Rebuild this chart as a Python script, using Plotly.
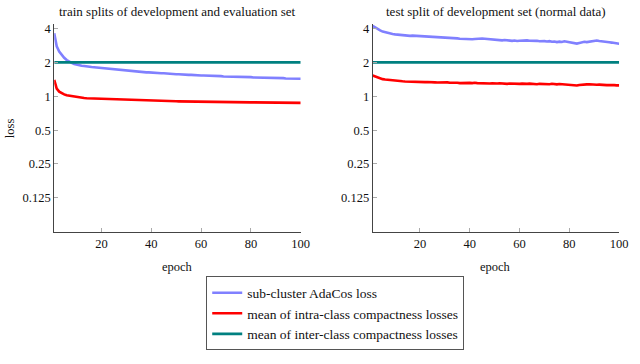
import math
import plotly.graph_objects as go

epochs = list(range(1, 101))

train_adacos = [
    3.63, 2.78, 2.50, 2.33, 2.20, 2.10, 2.03, 1.98, 1.94, 1.91,
    1.89, 1.87, 1.86, 1.84, 1.83, 1.82, 1.81, 1.80, 1.79, 1.78,
    1.77, 1.76, 1.75, 1.74, 1.73, 1.72, 1.71, 1.70, 1.69, 1.68,
    1.68, 1.67, 1.67, 1.66, 1.65, 1.65, 1.64, 1.63, 1.63, 1.62,
    1.62, 1.61, 1.61, 1.60, 1.60, 1.59, 1.59, 1.58, 1.58, 1.57,
    1.57, 1.56, 1.56, 1.56, 1.55, 1.55, 1.54, 1.54, 1.54, 1.53,
    1.53, 1.53, 1.52, 1.52, 1.52, 1.51, 1.51, 1.51, 1.50, 1.50,
    1.50, 1.50, 1.49, 1.49, 1.49, 1.49, 1.48, 1.48, 1.48, 1.48,
    1.47, 1.47, 1.47, 1.47, 1.46, 1.46, 1.46, 1.46, 1.45, 1.45,
    1.45, 1.45, 1.45, 1.44, 1.44, 1.44, 1.44, 1.43, 1.43, 1.43,
]

train_intra = [
    1.40, 1.17, 1.10, 1.06, 1.04, 1.02, 1.01, 1.00, 0.99, 0.98,
    0.975, 0.97, 0.965, 0.96, 0.958, 0.955, 0.952, 0.95, 0.947, 0.945,
    0.943, 0.941, 0.939, 0.937, 0.935, 0.933, 0.931, 0.93, 0.928, 0.926,
    0.925, 0.923, 0.922, 0.92, 0.919, 0.917, 0.916, 0.915, 0.913, 0.912,
    0.911, 0.91, 0.909, 0.908, 0.907, 0.906, 0.905, 0.904, 0.903, 0.902,
    0.901, 0.90, 0.899, 0.899, 0.898, 0.897, 0.896, 0.896, 0.895, 0.894,
    0.894, 0.893, 0.892, 0.892, 0.891, 0.89, 0.89, 0.889, 0.889, 0.888,
    0.887, 0.887, 0.886, 0.886, 0.885, 0.885, 0.884, 0.884, 0.883, 0.883,
    0.882, 0.882, 0.881, 0.881, 0.88, 0.88, 0.879, 0.879, 0.878, 0.878,
    0.878, 0.877, 0.877, 0.876, 0.876, 0.876, 0.875, 0.875, 0.875, 0.874,
]

train_inter = [
    2.0, 2.0, 2.0, 2.0, 2.0, 2.0, 2.0, 2.0, 2.0, 2.0,
    2.0, 2.0, 2.0, 2.0, 2.0, 2.0, 2.0, 2.0, 2.0, 2.0,
    2.0, 2.0, 2.0, 2.0, 2.0, 2.0, 2.0, 2.0, 2.0, 2.0,
    2.0, 2.0, 2.0, 2.0, 2.0, 2.0, 2.0, 2.0, 2.0, 2.0,
    2.0, 2.0, 2.0, 2.0, 2.0, 2.0, 2.0, 2.0, 2.0, 2.0,
    2.0, 2.0, 2.0, 2.0, 2.0, 2.0, 2.0, 2.0, 2.0, 2.0,
    2.0, 2.0, 2.0, 2.0, 2.0, 2.0, 2.0, 2.0, 2.0, 2.0,
    2.0, 2.0, 2.0, 2.0, 2.0, 2.0, 2.0, 2.0, 2.0, 2.0,
    2.0, 2.0, 2.0, 2.0, 2.0, 2.0, 2.0, 2.0, 2.0, 2.0,
    2.0, 2.0, 2.0, 2.0, 2.0, 2.0, 2.0, 2.0, 2.0, 2.0,
]

test_adacos = [
    4.22, 4.08, 3.95, 3.85, 3.76, 3.70, 3.65, 3.61, 3.58, 3.55,
    3.53, 3.50, 3.49, 3.47, 3.46, 3.44, 3.46, 3.45, 3.43, 3.45,
    3.42, 3.44, 3.40, 3.41, 3.38, 3.40, 3.36, 3.38, 3.34, 3.35,
    3.32, 3.30, 3.31, 3.28, 3.27, 3.25, 3.24, 3.22, 3.21, 3.19,
    3.21, 3.23, 3.25, 3.24, 3.26, 3.25, 3.23, 3.21, 3.18, 3.16,
    3.15, 3.17, 3.14, 3.16, 3.13, 3.12, 3.11, 3.13, 3.10, 3.12,
    3.14, 3.16, 3.14, 3.12, 3.13, 3.10, 3.11, 3.08, 3.10, 3.09,
    3.07, 3.09, 3.05, 3.07, 3.03, 3.06, 3.04, 3.08, 3.05, 3.02,
    3.00, 2.97, 2.94, 2.98, 3.02, 3.05, 3.03, 3.06, 3.10, 3.12,
    3.13, 3.10, 3.07, 3.08, 3.04, 3.02, 3.00, 2.97, 2.95, 2.93,
]

test_intra = [
    1.53, 1.50, 1.46, 1.43, 1.42, 1.41, 1.40, 1.39, 1.385, 1.38,
    1.37, 1.365, 1.36, 1.355, 1.35, 1.355, 1.345, 1.35, 1.34, 1.345,
    1.34, 1.335, 1.34, 1.33, 1.335, 1.33, 1.325, 1.33, 1.32, 1.325,
    1.33, 1.32, 1.325, 1.315, 1.32, 1.31, 1.315, 1.32, 1.31, 1.315,
    1.31, 1.32, 1.31, 1.305, 1.31, 1.30, 1.31, 1.30, 1.305, 1.295,
    1.30, 1.305, 1.295, 1.30, 1.29, 1.30, 1.295, 1.29, 1.30, 1.29,
    1.295, 1.285, 1.29, 1.295, 1.285, 1.29, 1.28, 1.29, 1.285, 1.28,
    1.285, 1.28, 1.29, 1.28, 1.275, 1.285, 1.28, 1.27, 1.28, 1.275,
    1.27, 1.26, 1.245, 1.26, 1.27, 1.28, 1.275, 1.28, 1.27, 1.275,
    1.265, 1.27, 1.26, 1.265, 1.255, 1.26, 1.25, 1.255, 1.25, 1.25,
]

test_inter = [
    2.0, 2.0, 2.0, 2.0, 2.0, 2.0, 2.0, 2.0, 2.0, 2.0,
    2.0, 2.0, 2.0, 2.0, 2.0, 2.0, 2.0, 2.0, 2.0, 2.0,
    2.0, 2.0, 2.0, 2.0, 2.0, 2.0, 2.0, 2.0, 2.0, 2.0,
    2.0, 2.0, 2.0, 2.0, 2.0, 2.0, 2.0, 2.0, 2.0, 2.0,
    2.0, 2.0, 2.0, 2.0, 2.0, 2.0, 2.0, 2.0, 2.0, 2.0,
    2.0, 2.0, 2.0, 2.0, 2.0, 2.0, 2.0, 2.0, 2.0, 2.0,
    2.0, 2.0, 2.0, 2.0, 2.0, 2.0, 2.0, 2.0, 2.0, 2.0,
    2.0, 2.0, 2.0, 2.0, 2.0, 2.0, 2.0, 2.0, 2.0, 2.0,
    2.0, 2.0, 2.0, 2.0, 2.0, 2.0, 2.0, 2.0, 2.0, 2.0,
    2.0, 2.0, 2.0, 2.0, 2.0, 2.0, 2.0, 2.0, 2.0, 2.0,
]

series_names = [
    "sub-cluster AdaCos loss",
    "mean of intra-class compactness losses",
    "mean of inter-class compactness losses",
]
series_colors = ["#8080ff", "#ff0000", "#008080"]

panel_titles = [
    "train splits of development and evaluation set",
    "test split of development set (normal data)",
]

x_tickvals = [20, 40, 60, 80, 100]
y_tickvals = [0.125, 0.25, 0.5, 1, 2, 4]
y_ticktext = ["0.125", "0.25", "0.5", "1", "2", "4"]

FONT = "Liberation Serif"
W, H = 640, 364

fig = go.Figure()

panels = [
    (train_adacos, train_intra, train_inter, "x", "y"),
    (test_adacos, test_intra, test_inter, "x2", "y2"),
]
for pi, (a, b, c, xa, ya) in enumerate(panels):
    for si, vals in enumerate([a, b, c]):
        fig.add_trace(go.Scatter(
            x=epochs, y=vals, mode="lines",
            line=dict(color=series_colors[si], width=2.6),
            name=series_names[si], showlegend=(pi == 0),
            xaxis=xa, yaxis=ya, hoverinfo="skip",
        ))

# plot-area geometry (pixels)
left_px = [(55, 305), (378, 628)]
top_px, bot_px = 22, 231
ydom = [(H - bot_px) / H, (H - top_px) / H]

axis_common = dict(
    showgrid=False, zeroline=False, showline=True, linecolor="#444444",
    linewidth=1, ticks="inside", ticklen=4, tickcolor="#aaaaaa",
    tickfont=dict(family=FONT, size=12.5, color="#111111"), mirror=False,
)

layout = dict(
    width=W, height=H, margin=dict(l=0, r=0, t=0, b=0),
    paper_bgcolor="white", plot_bgcolor="white",
    font=dict(family=FONT, color="#111111"),
    showlegend=True,
    legend=dict(
        x=340 / W, y=(H - 276) / H, xanchor="center", yanchor="top",
        bordercolor="#555555", borderwidth=1, bgcolor="white",
        font=dict(family=FONT, size=13.5, color="#111111"),
        tracegroupgap=0, itemwidth=30,
    ),
)
for i, (l, r) in enumerate(left_px):
    sfx = "" if i == 0 else str(i + 1)
    layout["xaxis" + sfx] = dict(
        axis_common, domain=[l / W, r / W], range=[1, 100],
        tickvals=x_tickvals, anchor="y" + sfx,
    )
    layout["yaxis" + sfx] = dict(
        axis_common, domain=ydom, type="log",
        range=[math.log10(0.0625), math.log10(4.4)],
        tickvals=y_tickvals, ticktext=y_ticktext, anchor="x" + sfx,
    )
fig.update_layout(**layout)

annotations = []
for i, (l, r) in enumerate(left_px):
    cx = (l + r) / 2 / W
    annotations.append(dict(
        text=panel_titles[i], x=cx, y=(H - 10) / H, xref="paper", yref="paper",
        showarrow=False, xanchor="center", yanchor="middle",
        font=dict(family=FONT, size=13, color="#111111"),
    ))
    annotations.append(dict(
        text="epoch", x=cx, y=(H - 266) / H, xref="paper", yref="paper",
        showarrow=False, xanchor="center", yanchor="middle",
        font=dict(family=FONT, size=12.5, color="#111111"),
    ))
annotations.append(dict(
    text="loss", x=10 / W, y=(H - 127) / H, xref="paper", yref="paper",
    showarrow=False, xanchor="center", yanchor="middle", textangle=-90,
    font=dict(family=FONT, size=12.5, color="#111111"),
))
fig.update_layout(annotations=annotations)

fig.write_html(
    "out.html",
    config={"displayModeBar": False},
    post_script="document.body.style.margin='0';document.body.style.padding='0';",
)
